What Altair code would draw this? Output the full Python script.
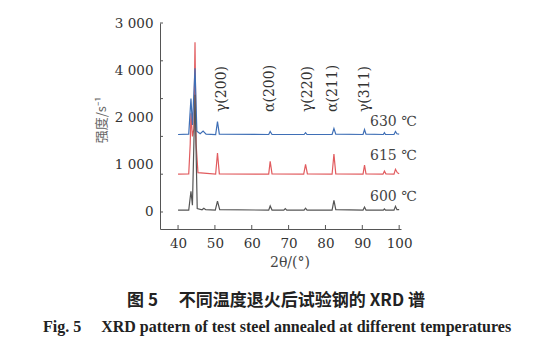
import altair as alt
import pandas as pd

# ---- data ----
two_theta_600 = [40, 42.9, 43.5, 43.9, 44.6, 45.2, 46.5, 47.0, 47.5, 50.1, 50.7, 51.3,
                 64.6, 65.0, 65.5, 68.7, 69.1, 69.5, 74.2, 74.6, 75.0, 81.8, 82.3, 82.8,
                 90.2, 90.6, 91.0, 95.7, 96.0, 96.3, 98.6, 99.0, 99.4, 100]
int_600 = [25, 25, 275, 90, 1550, 45, 30, 50, 30, 25, 145, 30,
           25, 80, 25, 25, 45, 25, 25, 50, 25, 25, 155, 30,
           25, 65, 25, 25, 40, 25, 25, 75, 30, 30]

two_theta_615 = [40, 42.9, 43.3, 43.5, 43.9, 44.3, 44.6, 44.9, 45.4, 50.2, 50.7, 51.2,
                 64.6, 65.0, 65.5, 74.1, 74.6, 75.1, 81.8, 82.3, 82.8,
                 90.2, 90.6, 91.0, 95.6, 96.0, 96.4, 98.6, 99.0, 99.5, 100]
int_615 = [500, 505, 900, 1305, 1000, 1100, 2246, 900, 520, 500, 780, 505,
           500, 670, 505, 500, 630, 505, 500, 765, 505,
           500, 620, 505, 500, 540, 505, 500, 565, 520, 505]

two_theta_630 = [40, 42.9, 43.5, 43.9, 44.6, 45.1, 46.0, 46.8, 47.6, 50.2, 50.7, 51.2,
                 64.6, 65.0, 65.5, 74.2, 74.6, 75.0, 81.8, 82.3, 82.8,
                 90.2, 90.6, 91.0, 95.7, 96.0, 96.3, 98.6, 99.0, 99.4, 100]
int_630 = [1025, 1030, 1500, 1150, 1900, 1070, 1035, 1070, 1030, 1025, 1195, 1030,
           1025, 1065, 1025, 1025, 1050, 1025, 1025, 1105, 1030,
           1025, 1090, 1030, 1025, 1050, 1025, 1025, 1065, 1035, 1030]

peak_labels = ["γ(200)", "α(200)", "γ(220)", "α(211)", "γ(311)"]
peak_label_x = [51.9, 65.0, 75.3, 82.1, 90.8]

temp_labels = ["600 ℃", "615 ℃", "630 ℃"]
temp_label_x = [92.1, 92.1, 92.1]
temp_label_y = [198, 741, 1190]

y_tick_values = [0, 500, 1000, 1500, 2000, 2500]
y_label_values = [0, 625, 1250, 1875, 2500]
y_label_texts = ["0", "1 000", "2 000", "4 000", "3 000"]
x_tick_values = [40, 50, 60, 70, 80, 90, 100]

colors = {"600": "#555555", "615": "#e15b5e", "630": "#3f6fb6"}

X_DOMAIN = [35.1, 100.5]
Y_DOMAIN = [-225, 2500]
W, H = 241, 206

def series_df(xs, ys, name):
    return pd.DataFrame({"x": xs, "y": ys, "s": name})

xs = alt.Scale(domain=X_DOMAIN, nice=False, zero=False)
ys = alt.Scale(domain=Y_DOMAIN, nice=False, zero=False)

label_expr = " : ".join(
    f"datum.value == {v} ? '{t}'" for v, t in zip(y_label_values, y_label_texts)
) + " : ''"

serif = "DejaVu Serif"

AX = alt.Axis(values=x_tick_values, ticks=False, domainColor="#555555",
              labelFont=serif, labelFontSize=13.5, labelColor="#333333",
              labelPadding=7, grid=False, title=None)
AY = alt.Axis(values=y_label_values, ticks=False, domainColor="#555555",
              labelExpr=label_expr, labelFont=serif, labelFontSize=13.5,
              labelColor="#333333", labelPadding=7, grid=False, title=None)

def X():
    return alt.X("x:Q", scale=xs, axis=AX)

def Y():
    return alt.Y("y:Q", scale=ys, axis=AY)

def line_layer(xsv, ysv, name):
    return alt.Chart(series_df(xsv, ysv, name)).mark_line(
        color=colors[name], strokeWidth=1.2, clip=True).encode(
        x=X(), y=Y(), order="x:Q")

red = line_layer(two_theta_615, int_615, "615")
blue = line_layer(two_theta_630, int_630, "630")
black = line_layer(two_theta_600, int_600, "600")

ytick = alt.Chart(pd.DataFrame({"y": y_tick_values})).mark_rule(
    color="#555555", strokeWidth=1).encode(
    y=Y(), x=alt.value(0), x2=alt.value(3))
xtick = alt.Chart(pd.DataFrame({"x": x_tick_values})).mark_rule(
    color="#555555", strokeWidth=1).encode(
    x=X(), y=alt.value(H), y2=alt.value(H - 4))

peaks = alt.Chart(pd.DataFrame({"x": peak_label_x, "t": peak_labels})).mark_text(
    angle=270, align="left", baseline="middle", font=serif, fontSize=14,
    color="#333333").encode(
    x=X(), y=alt.value(89), text="t:N")

temps = alt.Chart(pd.DataFrame({"x": temp_label_x, "y": temp_label_y,
                                "t": temp_labels})).mark_text(
    align="left", baseline="middle", font=serif, fontSize=14,
    color="#444444").encode(
    x=X(), y=Y(), text="t:N")

ytitle = alt.Chart(pd.DataFrame({"t": ["强度/s⁻¹"]})).mark_text(
    angle=270, align="center", baseline="middle", font="Noto Sans CJK SC",
    fontSize=13, color="#666666").encode(
    x=alt.value(-58), y=alt.value(97), text="t:N")

xtitle = alt.Chart(pd.DataFrame({"t": ["2θ/(°)"]})).mark_text(
    align="center", baseline="middle", font=serif, fontSize=14,
    color="#444444").encode(
    x=alt.value(130), y=alt.value(240), text="t:N")

cap_cn = alt.Chart(pd.DataFrame({"t": ["图 5　 不同温度退火后试验钢的 XRD 谱"]})).mark_text(
    align="center", baseline="middle", font="Noto Sans CJK SC", fontSize=17,
    fontWeight="bold", color="#222222").encode(
    x=alt.value(116), y=alt.value(278), text="t:N")

cap_en = alt.Chart(pd.DataFrame({"t": ["Fig. 5　 XRD pattern of test steel annealed at different temperatures"]})).mark_text(
    align="center", baseline="middle", font="Liberation Serif", fontSize=16,
    fontWeight="bold", color="#222222").encode(
    x=alt.value(117), y=alt.value(304), text="t:N")

chart = alt.layer(red, blue, black, ytick, xtick, peaks, temps, ytitle, xtitle,
                  cap_cn, cap_en).properties(
    width=W, height=H,
    padding={"left": 160, "top": 23, "right": 159, "bottom": 123},
    autosize=alt.AutoSizeParams(type="none"),
    background="white",
).configure_view(stroke=None)

chart.save("out.html", embed_options={"renderer": "svg", "actions": False})
